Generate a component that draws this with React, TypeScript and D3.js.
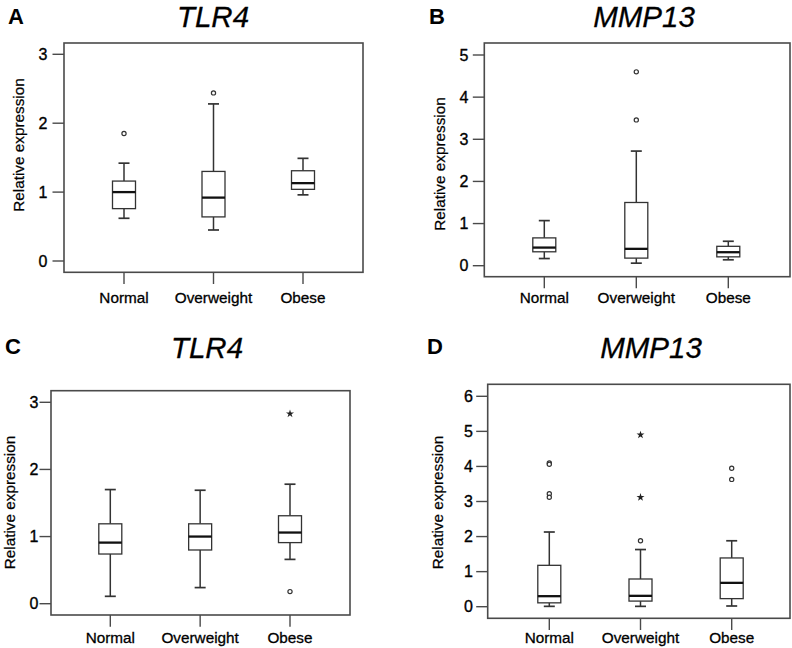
import React from "react";
import * as d3 from "d3";

const categories = ["Normal", "Overweight", "Obese"];

// five-number summaries per category: [whiskerLow, q1, median, q3, whiskerHigh]
const boxesA = [
  [0.62, 0.76, 1.0, 1.16, 1.42],
  [0.45, 0.64, 0.92, 1.3, 2.28],
  [0.96, 1.04, 1.13, 1.31, 1.49],
];
const outliersA = [
  { cat: "Normal", value: 1.85, kind: "circle" },
  { cat: "Overweight", value: 2.44, kind: "circle" },
];

const boxesB = [
  [0.17, 0.33, 0.43, 0.66, 1.07],
  [0.06, 0.18, 0.4, 1.5, 2.72],
  [0.14, 0.21, 0.32, 0.46, 0.58],
];
const outliersB = [
  { cat: "Overweight", value: 4.6, kind: "circle" },
  { cat: "Overweight", value: 3.46, kind: "circle" },
];

const boxesC = [
  [0.11, 0.74, 0.91, 1.19, 1.7],
  [0.24, 0.8, 1.0, 1.19, 1.69],
  [0.66, 0.91, 1.06, 1.31, 1.78],
];
const outliersC = [
  { cat: "Obese", value: 2.83, kind: "star" },
  { cat: "Obese", value: 0.18, kind: "circle" },
];

const boxesD = [
  [0.01, 0.11, 0.3, 1.18, 2.13],
  [0.01, 0.16, 0.31, 0.79, 1.63],
  [0.02, 0.23, 0.68, 1.39, 1.88],
];
const outliersD = [
  { cat: "Normal", value: 4.1, kind: "circle" },
  { cat: "Normal", value: 4.06, kind: "circle" },
  { cat: "Normal", value: 3.22, kind: "circle" },
  { cat: "Normal", value: 3.12, kind: "circle" },
  { cat: "Overweight", value: 1.88, kind: "circle" },
  { cat: "Overweight", value: 3.12, kind: "star" },
  { cat: "Overweight", value: 4.9, kind: "star" },
  { cat: "Obese", value: 3.95, kind: "circle" },
  { cat: "Obese", value: 3.63, kind: "circle" },
];

const ticksA = [0, 1, 2, 3];
const ticksB = [0, 1, 2, 3, 4, 5];
const ticksC = [0, 1, 2, 3];
const ticksD = [0, 1, 2, 3, 4, 5, 6];

const panelLetters = ["A", "B", "C", "D"];
const panelTitles = ["TLR4", "MMP13", "TLR4", "MMP13"];
const yAxisTitle = "Relative expression";

const FONT = "'Liberation Sans', Arial, Helvetica, sans-serif";

type Outlier = { cat: string; value: number; kind: string };

type Layout = {
  frame: [number, number, number, number];
  yRange: [number, number];
  yMax: number;
  xRange: [number, number];
  labelRight: number;
  axisTitle: [number, number];
  title: [number, number];
  letter: [number, number];
  xLabelBase: number;
  xTickEnd: number;
};

const layouts: Layout[] = [
  {
    frame: [64, 43, 363, 272.3],
    yRange: [261, 54.3],
    yMax: 3,
    xRange: [124, 303],
    labelRight: 47.5,
    axisTitle: [18.5, 145],
    title: [213, 27],
    letter: [8, 23.5],
    xLabelBase: 302.5,
    xTickEnd: 284,
  },
  {
    frame: [484.3, 43, 790, 276.7],
    yRange: [265.7, 55],
    yMax: 5,
    xRange: [544.3, 728.3],
    labelRight: 468.5,
    axisTitle: [439, 164],
    title: [644, 27],
    letter: [429, 23.5],
    xLabelBase: 302.7,
    xTickEnd: 288.3,
  },
  {
    frame: [51, 390.7, 350, 615],
    yRange: [603.7, 402.3],
    yMax: 3,
    xRange: [110.3, 290],
    labelRight: 38.5,
    axisTitle: [9.5, 502.5],
    title: [207, 358],
    letter: [5, 353.5],
    xLabelBase: 643.3,
    xTickEnd: 626.7,
  },
  {
    frame: [487.7, 384.3, 790, 618.3],
    yRange: [606.7, 396.3],
    yMax: 6,
    xRange: [549.3, 731.7],
    labelRight: 473,
    axisTitle: [437.7, 502.5],
    title: [651, 358],
    letter: [427, 353.5],
    xLabelBase: 643.3,
    xTickEnd: 630,
  },
];

const allBoxes = [boxesA, boxesB, boxesC, boxesD];
const allOutliers: Outlier[][] = [outliersA, outliersB, outliersC, outliersD];
const allTicks = [ticksA, ticksB, ticksC, ticksD];

const LINE = "#333";
const FRAME = "#4a4a4a";
const TEXT = "#000";

function Panel({ idx }: { idx: number }) {
  const L = layouts[idx];
  const boxes = allBoxes[idx];
  const outliers = allOutliers[idx];
  const ticks = allTicks[idx];
  const y = d3.scaleLinear().domain([0, L.yMax]).range(L.yRange);
  const x = d3.scalePoint<string>().domain(categories).range(L.xRange).padding(0);
  const [fx0, fy0, fx1, fy1] = L.frame;
  const boxW = 23;
  const capW = 11;
  const star = d3.symbol().type(d3.symbolStar).size(20)();

  return (
    <g>
      <text
        x={L.letter[0]}
        y={L.letter[1]}
        fontFamily={FONT}
        fontWeight="bold"
        fontSize={22}
        fill={TEXT}
      >
        {panelLetters[idx]}
      </text>
      <text
        x={L.title[0]}
        y={L.title[1]}
        textAnchor="middle"
        fontFamily={FONT}
        fontStyle="italic"
        fontSize={29.5}
        fill={TEXT}
        stroke={TEXT}
        strokeWidth={0.3}
      >
        {panelTitles[idx]}
      </text>
      <rect
        x={fx0}
        y={fy0}
        width={fx1 - fx0}
        height={fy1 - fy0}
        fill="none"
        stroke={FRAME}
        strokeWidth={1.6}
      />
      {ticks.map((t) => (
        <g key={t}>
          <line x1={fx0 - 11.5} x2={fx0} y1={y(t)} y2={y(t)} stroke={FRAME} strokeWidth={1.4} />
          <text
            x={L.labelRight}
            y={y(t)}
            dy="0.36em"
            textAnchor="end"
            fontFamily={FONT}
            fontSize={16}
            fill={TEXT}
            stroke={TEXT}
            strokeWidth={0.35}
          >
            {t}
          </text>
        </g>
      ))}
      <text
        transform={`translate(${L.axisTitle[0]},${L.axisTitle[1]}) rotate(-90)`}
        textAnchor="middle"
        dy="0.36em"
        fontFamily={FONT}
        fontSize={15.3}
        fill={TEXT}
        stroke={TEXT}
        strokeWidth={0.25}
      >
        {yAxisTitle}
      </text>
      {categories.map((c) => (
        <g key={c}>
          <line x1={x(c)} x2={x(c)} y1={fy1} y2={L.xTickEnd} stroke={FRAME} strokeWidth={1.4} />
          <text
            x={x(c)}
            y={L.xLabelBase}
            textAnchor="middle"
            fontFamily={FONT}
            fontSize={15.3}
            fill={TEXT}
            stroke={TEXT}
            strokeWidth={0.3}
          >
            {c}
          </text>
        </g>
      ))}
      {boxes.map((b, i) => {
        const cx = x(categories[i]) as number;
        const [lo, q1, med, q3, hi] = b;
        return (
          <g key={i}>
            <line x1={cx} x2={cx} y1={y(hi)} y2={y(q3)} stroke={LINE} strokeWidth={1.5} />
            <line x1={cx} x2={cx} y1={y(q1)} y2={y(lo)} stroke={LINE} strokeWidth={1.5} />
            <line x1={cx - capW / 2} x2={cx + capW / 2} y1={y(hi)} y2={y(hi)} stroke={LINE} strokeWidth={1.7} />
            <line x1={cx - capW / 2} x2={cx + capW / 2} y1={y(lo)} y2={y(lo)} stroke={LINE} strokeWidth={1.7} />
            <rect
              x={cx - boxW / 2}
              y={y(q3)}
              width={boxW}
              height={y(q1) - y(q3)}
              fill="white"
              stroke={LINE}
              strokeWidth={1.3}
            />
            <line x1={cx - boxW / 2} x2={cx + boxW / 2} y1={y(med)} y2={y(med)} stroke="#111" strokeWidth={2.3} />
          </g>
        );
      })}
      {outliers.map((o, i) => {
        const cx = x(o.cat) as number;
        return o.kind === "star" ? (
          <path key={i} d={star || ""} transform={`translate(${cx},${y(o.value)})`} fill="#222" />
        ) : (
          <circle key={i} cx={cx} cy={y(o.value)} r={2.1} fill="white" stroke={LINE} strokeWidth={1.2} />
        );
      })}
    </g>
  );
}

export default function App() {
  return (
    <svg
      width={792}
      height={648}
      style={{ position: "absolute", left: 0, top: 0, background: "white" }}
    >
      <rect x={0} y={0} width={792} height={648} fill="white" />
      {[0, 1, 2, 3].map((i) => (
        <Panel key={i} idx={i} />
      ))}
    </svg>
  );
}
